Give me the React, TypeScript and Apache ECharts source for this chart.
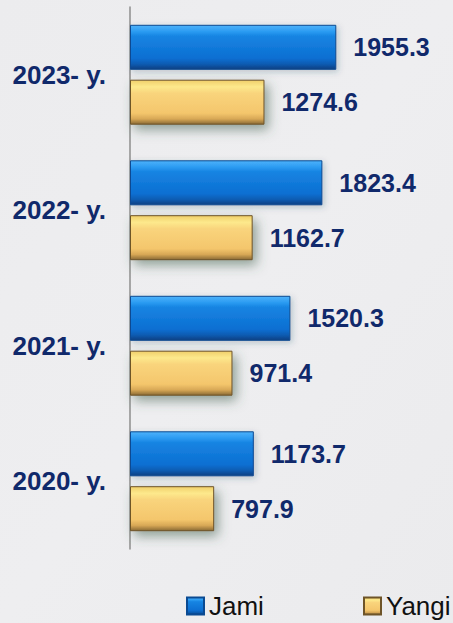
import React, { useEffect, useRef } from "react";
import * as echarts from "echarts";

const categories = ["2020- y.", "2021- y.", "2022- y.", "2023- y."];
const jami = [1173.7, 1520.3, 1823.4, 1955.3];
const yangi = [797.9, 971.4, 1162.7, 1274.6];
const seriesNames = ["Jami", "Yangi"];

const TEXT = "#10296b";
const FONT = "Liberation Sans, Arial, sans-serif";

export default function App() {
  const ref = useRef<HTMLDivElement>(null);
  useEffect(() => {
    if (!ref.current) return;
    const chart = echarts.init(ref.current, null, { renderer: "svg" });
    const blue = new echarts.graphic.LinearGradient(0, 0, 0, 1, [
      { offset: 0, color: "#4db2fb" },
      { offset: 0.14, color: "#2c9cf2" },
      { offset: 0.25, color: "#1684e2" },
      { offset: 0.75, color: "#0d6fd2" },
      { offset: 0.88, color: "#0a5cb2" },
      { offset: 1, color: "#073f82" },
    ]);
    const gold = new echarts.graphic.LinearGradient(0, 0, 0, 1, [
      { offset: 0, color: "#f0cf6a" },
      { offset: 0.15, color: "#fde98c" },
      { offset: 0.3, color: "#f9d47c" },
      { offset: 0.75, color: "#f4c66c" },
      { offset: 0.88, color: "#d8a856" },
      { offset: 1, color: "#8a6a34" },
    ]);
    const legendText = { fontFamily: FONT, fontSize: 26, color: "#111" };
    chart.setOption({
      animation: false,
      backgroundColor: new echarts.graphic.LinearGradient(0, 0, 1, 1, [
        { offset: 0, color: "#ececee" },
        { offset: 0.5, color: "#eeeef0" },
        { offset: 1, color: "#ebebed" },
      ]),
      grid: { left: 130, top: 7, width: 316.5, height: 542 },
      legend: [
        {
          data: [seriesNames[0]],
          left: 181,
          top: 588,
          icon: "rect",
          itemWidth: 17,
          itemHeight: 17,
          textStyle: legendText,
        },
        {
          data: [seriesNames[1]],
          left: 358,
          top: 588,
          icon: "rect",
          itemWidth: 17,
          itemHeight: 17,
          textStyle: legendText,
        },
      ],
      xAxis: { type: "value", min: 0, max: 3000, show: false },
      yAxis: {
        type: "category",
        data: categories,
        axisLine: { show: true, lineStyle: { color: "#8e8e8e", width: 1.5 } },
        axisTick: { show: false },
        axisLabel: {
          margin: 24,
          fontFamily: FONT,
          fontWeight: "bold",
          fontSize: 26,
          color: TEXT,
        },
      },
      series: [
        {
          name: seriesNames[0],
          type: "bar",
          data: jami,
          barWidth: 45,
          barGap: "22%",
          itemStyle: {
            color: blue,
            borderColor: "#0a4a92",
            borderWidth: 1,
            shadowColor: "rgba(40,70,90,0.25)",
            shadowBlur: 6,
            shadowOffsetX: 2,
            shadowOffsetY: 2,
          },
          label: {
            show: true,
            position: "right",
            distance: 17,
            fontFamily: FONT,
            fontWeight: "bold",
            fontSize: 25,
            color: TEXT,
          },
        },
        {
          name: seriesNames[1],
          type: "bar",
          data: yangi,
          barWidth: 45,
          barGap: "22%",
          itemStyle: {
            color: gold,
            borderColor: "#6e5428",
            borderWidth: 1,
            shadowColor: "rgba(60,95,75,0.55)",
            shadowBlur: 12,
            shadowOffsetX: 4,
            shadowOffsetY: 5,
          },
          label: {
            show: true,
            position: "right",
            distance: 17,
            fontFamily: FONT,
            fontWeight: "bold",
            fontSize: 25,
            color: TEXT,
          },
        },
      ],
    });
    return () => chart.dispose();
  }, []);
  return (
    <div
      ref={ref}
      style={{ position: "fixed", left: 0, top: 0, width: 453, height: 623 }}
    />
  );
}
